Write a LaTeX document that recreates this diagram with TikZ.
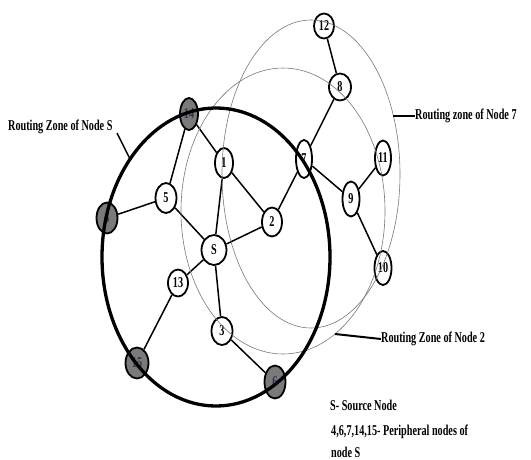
\documentclass[tikz,border=0pt]{standalone}
\usepackage{fontspec}
\setmainfont{Liberation Serif}[FakeStretch=0.68]
\usetikzlibrary{shapes.geometric}
\definecolor{perigray}{RGB}{122,122,122}
\definecolor{perilabel}{RGB}{45,55,85}
\definecolor{zonegray}{RGB}{120,120,120}
\tikzset{
  nd/.style={ellipse, draw=black, line width=1.8pt, fill=white, inner sep=0pt,
    font=\fontsize{15}{15}\selectfont\bfseries},
  per/.style={nd, fill=perigray, text=perilabel},
  link/.style={line width=1.5pt},
  zone/.style={draw=zonegray, line width=0.6pt},
  szone/.style={draw=black, line width=3.3pt},
  lab/.style={font=\fontsize{15}{18}\selectfont\bfseries, inner sep=0pt, anchor=west},
  leader/.style={line width=2pt}
}
\begin{document}
\begin{tikzpicture}[x=1pt,y=-1pt]
\useasboundingbox (0,0) rectangle (531,459);
% nodes
\node[nd, minimum width=20pt, minimum height=25pt] (n12) at (324,26) {12};
\node[nd, minimum width=22pt, minimum height=27pt] (n8) at (340,87) {8};
\node[nd, minimum width=16pt, minimum height=38pt] (n7) at (304,159) {7};
\node[nd, minimum width=16pt, minimum height=35pt] (n11) at (383,158) {11};
\node[nd, minimum width=17pt, minimum height=35pt] (n9) at (351,199) {9};
\node[nd, minimum width=17pt, minimum height=34pt] (n10) at (383,268) {10};
\node[per, minimum width=18pt, minimum height=32pt] (n14) at (189,114) {14};
\node[nd, minimum width=18pt, minimum height=30pt] (n1) at (224,163) {1};
\node[nd, minimum width=21pt, minimum height=30pt] (n5) at (166,198) {5};
\node[per, minimum width=21pt, minimum height=31pt] (n4) at (107,218) {4};
\node[nd, minimum width=20pt, minimum height=29pt] (n2) at (272,222) {2};
\node[nd, minimum width=25pt, minimum height=30pt] (nS) at (214,250) {S};
\node[nd, minimum width=20pt, minimum height=27pt] (n13) at (178,283) {13};
\node[nd, minimum width=21pt, minimum height=28pt] (n3) at (222,331) {3};
\node[per, minimum width=23pt, minimum height=31pt] (n15) at (137,363) {15};
\node[per, minimum width=21pt, minimum height=33pt] (n6) at (275,382) {6};
% links
\draw[link] (n12) -- (n8);
\draw[link] (n8) -- (n7);
\draw[link] (n7) -- (n2);
\draw[link] (n7) -- (n9);
\draw[link] (n9) -- (n11);
\draw[link] (n9) -- (n10);
\draw[link] (n14) -- (n1);
\draw[link] (n14) -- (n5);
\draw[link] (n1) -- (n2);
\draw[link] (n1) -- (nS);
\draw[link] (n5) -- (n4);
\draw[link] (n5) -- (nS);
\draw[link] (nS) -- (n2);
\draw[link] (nS) -- (n13);
\draw[link] (nS) -- (n3);
\draw[link] (n13) -- (n15);
\draw[link] (n3) -- (n6);
% routing zones
\draw[zone] (283,211) ellipse [x radius=102pt, y radius=143pt];
\draw[zone] (311,174) ellipse [x radius=89pt, y radius=154pt];
\draw[szone] (216,257) ellipse [x radius=114pt, y radius=149pt];
% leader end points on the zones
\coordinate (zS) at (130,159);
\coordinate (z7) at (393,116);
\coordinate (z2) at (335,334);
% labels
\node[lab] (lS) at (8,127) {Routing Zone of Node S};
\node[lab] (l7) at (415,116) {Routing zone of Node 7};
\node[lab] (l2) at (381,339) {Routing Zone of Node 2};
\coordinate (lSend) at (117,133);
\draw[line width=1.5pt] (lSend) -- (zS);
\draw[leader] (z7) -- (l7.west);
\draw[leader] (z2) -- (l2.west);
% legend
\node[lab] (g1) at (330,405) {S- Source Node};
\node[lab] (g2) at (331,432) {4,6,7,14,15- Peripheral nodes of};
\node[lab] (g3) at (331,452) {node S};
\end{tikzpicture}
\end{document}
